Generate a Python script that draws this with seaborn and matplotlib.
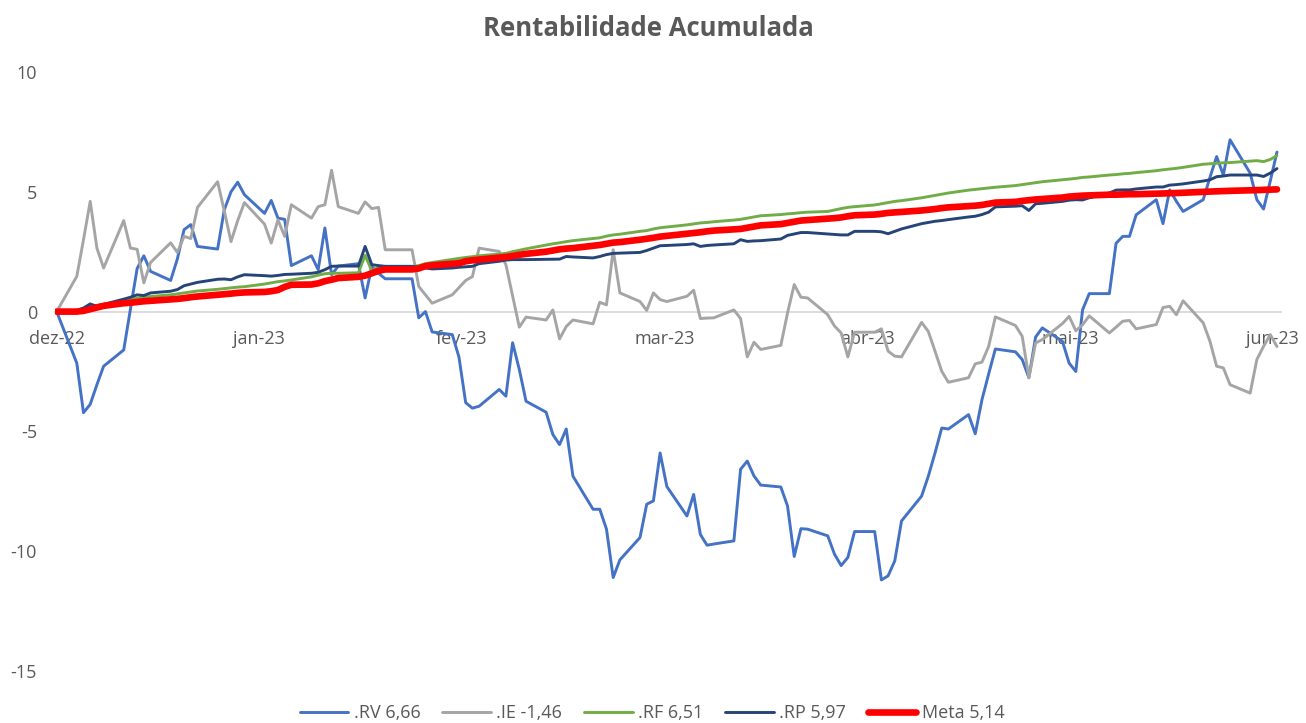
import numpy as np
import pandas as pd
import matplotlib
matplotlib.use("Agg")
import matplotlib.pyplot as plt
import matplotlib.dates as mdates
import seaborn as sns

# Daily (weekday) accumulated returns
dates = pd.bdate_range("2022-12-02", "2023-06-02")

rv = [0, -2.15, -4.22, -3.87, -3.05, -2.28, -1.6, 0.1, 1.8, 2.33, 1.68,
      1.3, 2.2, 3.42, 3.63, 2.72, 2.61, 4.25, 5.0, 5.4, 4.88,
      4.1, 4.64, 3.9, 3.85, 1.92, 2.33, 1.75, 3.49, 1.54, 1.9,
      2.0, 0.57, 1.88, 1.6, 1.37, 1.37, 1.37, -0.26, 0.0, -0.85,
      -0.96, -1.9, -3.8, -4.03, -3.95, -3.25, -3.53, -1.3, -2.42, -3.74,
      -4.2, -5.13, -5.55, -4.9, -6.87, -8.25, -8.25, -9.08, -11.1, -10.36,
      -9.43, -8.04, -7.9, -5.9, -7.3, -8.53, -7.63, -9.3, -9.75, -9.7,
      -9.57, -6.58, -6.24, -6.86, -7.24, -7.32, -8.11, -10.22, -9.06, -9.08,
      -9.36, -10.12, -10.6, -10.26, -9.18, -9.18, -11.2, -11.03, -10.4, -8.74,
      -7.7, -6.87, -5.9, -4.86, -4.9, -4.3, -5.1, -3.68, -2.6, -1.56,
      -1.68, -2.0, -2.76, -1.06, -0.68, -1.24, -2.15, -2.5, 0.07, 0.75,
      0.75, 2.85, 3.14, 3.14, 4.04, 4.67, 3.67, 5.08, 4.6, 4.18,
      4.67, 5.6, 6.47, 5.7, 7.17, 5.78, 4.67, 4.28, 5.45, 6.66]

ie = [0, 1.47, 3.0, 4.6, 2.65, 1.82, 3.8, 2.65, 2.6, 1.2, 2.05,
      2.87, 2.47, 3.14, 3.05, 4.35, 5.42, 4.2, 2.92, 3.8, 4.55,
      3.65, 2.86, 3.83, 3.14, 4.46, 3.9, 4.38, 4.46, 5.9, 4.38,
      4.1, 4.58, 4.3, 4.35, 2.58, 2.58, 2.58, 1.05, 0.7, 0.35,
      0.7, 1.0, 1.3, 1.46, 2.65, 2.51, 1.96, 0.65, -0.65, -0.23,
      -0.35, 0.07, -1.14, -0.62, -0.35, -0.51, 0.39, 0.28, 2.58, 0.78,
      0.42, 0.05, 0.78, 0.5, 0.42, 0.64, 0.89, -0.29, -0.27, -0.26,
      0.07, -0.29, -1.89, -1.28, -1.58, -1.41, -0.06, 1.13, 0.6, 0.57,
      -0.13, -0.6, -0.89, -1.89, -0.86, -0.86, -0.72, -1.65, -1.86, -1.89,
      -0.45, -0.83, -1.65, -2.49, -2.95, -2.76, -2.18, -2.11, -1.45, -0.22,
      -0.58, -1.03, -2.76, -1.31, -1.17, -0.5, -0.2, -0.8, -0.55, -0.18,
      -0.89, -0.65, -0.4, -0.37, -0.72, -0.54, 0.17, 0.22, -0.13, 0.45,
      -0.47, -1.24, -2.28, -2.35, -3.05, -3.4, -2.0, -1.45, -0.96, -1.46]

rf = [0, 0.05, 0.12, 0.2, 0.26, 0.3, 0.45, 0.5, 0.56, 0.6, 0.63,
      0.7, 0.74, 0.78, 0.82, 0.86, 0.93, 0.96, 0.99, 1.02, 1.04,
      1.15, 1.2, 1.25, 1.28, 1.32, 1.45, 1.52, 1.58, 1.6, 1.6,
      1.62, 2.35, 1.7, 1.85, 1.88, 1.88, 1.88, 1.92, 2.0, 2.05,
      2.18, 2.22, 2.26, 2.29, 2.33, 2.4, 2.43, 2.5, 2.56, 2.62,
      2.78, 2.83, 2.87, 2.92, 2.96, 3.05, 3.08, 3.15, 3.2, 3.23,
      3.35, 3.38, 3.45, 3.5, 3.53, 3.62, 3.66, 3.7, 3.72, 3.75,
      3.82, 3.85, 3.9, 3.95, 4.0, 4.05, 4.08, 4.1, 4.13, 4.15,
      4.18, 4.24, 4.3, 4.35, 4.38, 4.45, 4.5, 4.55, 4.6, 4.63,
      4.75, 4.8, 4.85, 4.9, 4.95, 5.07, 5.1, 5.13, 5.16, 5.19,
      5.26, 5.3, 5.34, 5.38, 5.42, 5.5, 5.53, 5.56, 5.6, 5.62,
      5.7, 5.72, 5.75, 5.77, 5.8, 5.88, 5.92, 5.95, 5.98, 6.02,
      6.15, 6.17, 6.19, 6.21, 6.22, 6.28, 6.3, 6.26, 6.35, 6.51]

rp = [0, 0.05, 0.15, 0.32, 0.22, 0.3, 0.52, 0.6, 0.7, 0.67, 0.78,
      0.85, 0.92, 1.08, 1.15, 1.22, 1.35, 1.36, 1.33, 1.45, 1.54,
      1.5, 1.48, 1.51, 1.55, 1.56, 1.6, 1.64, 1.75, 1.89, 1.9,
      1.9, 2.72, 1.96, 1.92, 1.89, 1.89, 1.89, 1.85, 1.82, 1.78,
      1.82, 1.85, 1.87, 1.89, 2.0, 2.1, 2.15, 2.17, 2.17, 2.17,
      2.18, 2.18, 2.19, 2.3, 2.28, 2.24, 2.3, 2.38, 2.43, 2.44,
      2.47, 2.55, 2.65, 2.75, 2.76, 2.8, 2.83, 2.72, 2.76, 2.78,
      2.83, 3.0, 2.93, 2.95, 2.96, 3.03, 3.18, 3.24, 3.3, 3.3,
      3.24, 3.22, 3.2, 3.2, 3.35, 3.35, 3.33, 3.25, 3.35, 3.45,
      3.67, 3.72, 3.77, 3.8, 3.84, 3.95, 3.98, 4.05, 4.15, 4.37,
      4.4, 4.42, 4.22, 4.5, 4.52, 4.6, 4.65, 4.67, 4.66, 4.75,
      4.95, 5.07, 5.08, 5.08, 5.12, 5.2, 5.2, 5.28, 5.3, 5.33,
      5.45, 5.5, 5.63, 5.66, 5.7, 5.7, 5.7, 5.64, 5.78, 5.97]

meta = [0, 0.0, 0.03, 0.1, 0.17, 0.24, 0.35, 0.37, 0.4, 0.43, 0.45,
        0.51, 0.53, 0.56, 0.6, 0.63, 0.7, 0.72, 0.75, 0.78, 0.8,
        0.82, 0.85, 0.9, 1.03, 1.12, 1.13, 1.18, 1.27, 1.33, 1.4,
        1.45, 1.5, 1.6, 1.7, 1.76, 1.76, 1.76, 1.8, 1.9, 1.93,
        2.0, 2.02, 2.1, 2.14, 2.17, 2.25, 2.28, 2.32, 2.37, 2.41,
        2.5, 2.55, 2.6, 2.63, 2.65, 2.75, 2.78, 2.83, 2.88, 2.9,
        3.0, 3.04, 3.08, 3.13, 3.16, 3.25, 3.28, 3.31, 3.35, 3.38,
        3.43, 3.45, 3.5, 3.55, 3.6, 3.65, 3.7, 3.75, 3.8, 3.82,
        3.88, 3.9, 3.93, 3.98, 4.02, 4.05, 4.08, 4.12, 4.14, 4.16,
        4.22, 4.25, 4.28, 4.32, 4.35, 4.4, 4.42, 4.45, 4.5, 4.55,
        4.58, 4.62, 4.65, 4.68, 4.7, 4.76, 4.8, 4.82, 4.84, 4.85,
        4.88, 4.88, 4.89, 4.9, 4.9, 4.92, 4.93, 4.94, 4.95, 4.96,
        5.0, 5.01, 5.02, 5.03, 5.04, 5.06, 5.07, 5.08, 5.09, 5.1]

series_labels = [".RV 6,66", ".IE -1,46", ".RF 6,51", ".RP 5,97", "Meta 5,14"]
month_labels = ["dez-22", "jan-23", "fev-23", "mar-23", "abr-23", "mai-23", "jun-23"]

sns.set_style("white")
plt.rcParams["font.family"] = ["Open Sans", "DejaVu Sans"]
plt.rcParams["axes.unicode_minus"] = False

W, H = 1306, 723
fig = plt.figure(figsize=(W / 100, H / 100), dpi=100)
ax = fig.add_axes([55 / W, 1 - 671 / H, (1281 - 55) / W, (671 - 72) / H])

styles = [("#4472C4", 2.1), ("#A5A5A5", 2.1), ("#70AD47", 2.1), ("#264478", 2.1), ("#FF0000", 4.8)]
for vals, (color, lw), lab in zip([rv, ie, rf, rp, meta], styles, series_labels):
    sns.lineplot(x=dates, y=vals, color=color, linewidth=lw, label=lab, ax=ax,
                 legend=False, solid_joinstyle="round")

d0 = mdates.date2num(dates[0])
ax.set_xlim(d0 - 0.25, d0 + 182.6)
ax.set_xticks(np.linspace(d0, d0 + 181.35, 7))
ax.set_xticklabels(month_labels)
ax.set_ylim(-15, 10)
ax.set_yticks(range(-15, 11, 5))
ax.set_xlabel("")
ax.set_ylabel("")

for s in ["top", "right", "left"]:
    ax.spines[s].set_visible(False)
ax.spines["bottom"].set_position(("data", 0))
ax.spines["bottom"].set_color("#D9D9D9")
ax.spines["bottom"].set_linewidth(1.3)
ax.spines["bottom"].set_zorder(0)

ax.tick_params(axis="x", direction="out", length=4, width=1.3, color="#D9D9D9",
               pad=9, labelsize=13, labelcolor="#595959")
ax.tick_params(axis="y", length=0, pad=13, labelsize=13, labelcolor="#595959")

fig.text(648 / W, 1 - 28 / H, "Rentabilidade Acumulada", ha="center", va="center",
         fontsize=18.5, fontweight="bold", color="#595959")

handles, labels = ax.get_legend_handles_labels()
fig.legend(handles, labels, loc="center", bbox_to_anchor=(652 / W, 1 - 713 / H),
           ncol=5, frameon=False, fontsize=13, handlelength=2.7, handletextpad=0.3,
           columnspacing=1.2, labelcolor="#595959")

fig.savefig("out.png", dpi=100)
